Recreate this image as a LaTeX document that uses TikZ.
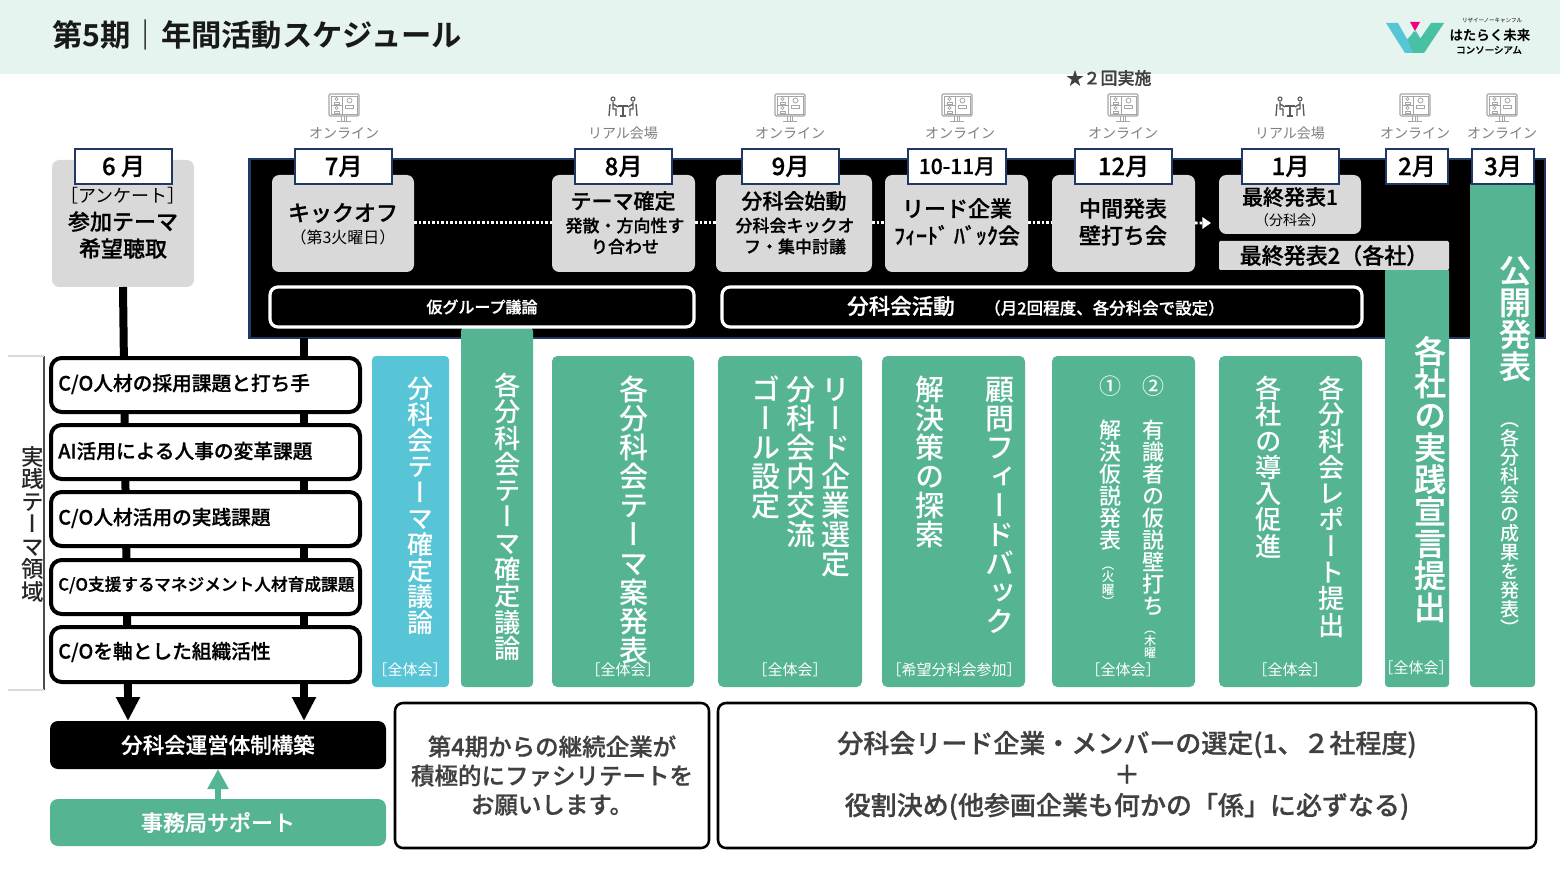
\documentclass[tikz,border=0pt]{standalone}
\usepackage{fontspec}
\usetikzlibrary{arrows.meta}
\setmainfont{Noto Sans CJK JP}[BoldFont={Noto Sans CJK JP Medium},BoldFeatures={FakeBold=0.7}]
\newfontfamily\vjp{Noto Sans CJK JP Medium}[RawFeature=+vert]
\newfontfamily\vjpb{Noto Sans CJK JP Medium}[RawFeature=+vert,FakeBold=0.7]
\newfontfamily\heavy{Noto Sans CJK JP Bold}
\definecolor{hdr}{HTML}{E5F4EF}
\definecolor{grn}{HTML}{55B592}
\definecolor{blu}{HTML}{57C5D6}
\definecolor{gbox}{HTML}{D9D9D9}
\definecolor{navy}{HTML}{1F3864}
\definecolor{ico}{HTML}{A6A6A6}
\definecolor{lab}{HTML}{7F7F7F}
\definecolor{dk}{HTML}{404040}
\newcommand\fsz[2]{\fontsize{\the\dimexpr #1pt*3/4\relax}{\the\dimexpr #2pt*3/4\relax}\selectfont}
% box by corners: name, x1,y1,x2,y2, style, text
\newcommand\bx[7]{%
  \pgfmathsetmacro\cxx{(#2+#4)/2}\pgfmathsetmacro\cyy{(#3+#5)/2}%
  \pgfmathsetmacro\ww{(#4-#2)*0.75}\pgfmathsetmacro\hh{(#5-#3)*0.75}%
  \node[inner sep=0pt,outer sep=0pt,minimum width=\ww pt,minimum height=\hh pt,align=center,#6] (#1) at (\cxx,\cyy) {#7};}
% vertical stack of characters
\def\vsend{\vsend}
\def\vsloop#1{\ifx#1\vsend\else\hbox to 1em{\hss\vrule height .88em depth .12em width 0pt #1\hss}\expandafter\vsloop\fi}
\newcommand\vstack[1]{\vbox{\offinterlineskip\vsloop#1\vsend}}
% vertical text: name, x, ytop, size, style, text
\newcommand\vt[6]{\node[anchor=north,inner sep=0pt,text=white,font=\vjp\fsz{#4}{#4},#5] (#1) at (#2,#3) {\vstack{#6}};}
\tikzset{
  x=0.75pt,y=-0.75pt,
  greybox/.style={fill=gbox,rounded corners=5.5pt,text=black},
  greenbox/.style={fill=grn,rounded corners=4pt,text=white},
  monthbox/.style={draw=navy,line width=1.9pt,fill=white,text=black,font=\bfseries\fsz{24}{28}},
  themebox/.style={draw=black,line width=3pt,fill=white,rounded corners=8pt,text=black},
  pill/.style={draw=white,line width=2.4pt,fill=black,rounded corners=6pt,text=white},
  notebox/.style={draw=black,line width=1.9pt,fill=white,rounded corners=6pt,text=dk,font=\bfseries},
  chan/.style={text=lab,font=\fsz{14}{16}},
  tag/.style={text=white,font=\fsz{15}{18}},
  txt/.style={inner sep=0pt,align=center},
  link/.style={line width=6pt,draw=black},
  bigarrow/.style={line width=6pt,draw=black,-{Triangle[width=17pt,length=18pt]}},
  dots/.style={draw=white,line width=2.2pt,dash pattern=on 1.9pt off 1.5pt},
  monitor/.pic={
    \draw[ico,line width=0.9pt,rounded corners=1pt,fill=white] (-15,-12) rectangle (15,10);
    \draw[ico,line width=0.6pt] (-13,-10) rectangle (13,8) (-2,-10) -- (-2,8) (-13,-1) -- (-2,-1);
    \draw[ico,line width=0.7pt] (0,10) -- (0,15) (-2.5,10)--(-2.5,15) (2.5,10)--(2.5,15) (-7,15) -- (7,15);
    \foreach \a/\b/\r in {-7.5/-7/1.6,-7.5/2/1.6,5.5/-5.5/2.5}{
      \draw[ico,line width=0.6pt] (\a,\b) circle[radius=\r];
      \draw[ico,line width=0.6pt] (\a-1.6*\r,\b+3.2*\r) -- (\a-1.6*\r,\b+1.9*\r) -- (\a+1.6*\r,\b+1.9*\r) -- (\a+1.6*\r,\b+3.2*\r) -- cycle;
    }
  },
  meeting/.pic={
    \foreach \s in {-1,1}{
      \draw[black!65,line width=0.8pt] (\s*10,-8) circle[radius=2];
      \draw[black!65,line width=1pt] (\s*10,-5) -- (\s*10,2) -- (\s*7,2) -- (\s*7,9) (\s*10,-3) -- (\s*5,0)
        (\s*13,-3) -- (\s*14,9);
    }
    \draw[black!65,line width=1pt] (-5,-1) -- (5,-1) (0,-1) -- (0,9) (-3,9) -- (3,9);
  }
}
\begin{document}
\begin{tikzpicture}
\useasboundingbox (0,0) rectangle (1560,877);
\fill[white] (0,0) rectangle (1560,877);
% header
\bx{hdrbar}{0}{0}{1560}{74}{fill=hdr}{}
\node[anchor=west,inner sep=0pt,font=\heavy\fsz{30.3}{34},text=black!90] (title) at (52,35) {第5期｜年間活動スケジュール};
% logo
\fill[blu] (1386,23) -- (1398,23) -- (1407,39) -- (1416,31) -- (1424,44) -- (1414,53) -- (1405,53) -- cycle;
\fill[grn!85!cyan] (1413,53) -- (1424,53) -- (1444,23) -- (1431,23) -- (1420,39) -- (1414,31) -- (1408,40) -- cycle;
\fill[magenta!90!red] (1410,22) -- (1420,22) -- (1415,31) -- cycle;
\node[txt,font=\fsz{5.5}{7}] (logo0) at (1492,21) {リザイーノーキャンフル};
\node[txt,font=\heavy\fsz{13.5}{15}] (logo1) at (1490,35) {はたらく未来};
\node[txt,font=\bfseries\fsz{9.5}{11}] (logo2) at (1489,50) {コンソーシアム};

% black band
\bx{band}{249.5}{159}{1545}{338}{draw=navy,line width=1.6pt,fill=black}{}
% connectors behind boxes
\coordinate (a1) at (128,721);
\coordinate (a2) at (304,721);
\bx{g6}{52}{160}{194}{287}{greybox}{}
\draw[link] (g6.south) -- (128,690);
\draw[link] (band.south -| a2) -- (304,690);
\draw[bigarrow] (128,688) -- (a1);
\draw[bigarrow] (304,688) -- (a2);

% grey event boxes
\bx{g7}{272}{175}{414}{272}{greybox}{}
\bx{g8}{552}{175}{695}{272}{greybox}{}
\bx{g9}{716}{175}{872}{272}{greybox}{}
\bx{g10}{885}{175}{1028}{272}{greybox}{}
\bx{g12}{1052}{175}{1195}{272}{greybox}{}
\bx{g1a}{1219}{175}{1361}{234}{greybox}{}
\coordinate (dotend) at (1211,223);
\draw[dots] ([yshift=0.4pt]g7.east) -- ([yshift=0.4pt]g8.west);
\draw[dots] ([yshift=0.4pt]g8.east) -- ([yshift=0.4pt]g9.west);
\draw[dots] ([yshift=0.4pt]g9.east) -- ([yshift=0.4pt]g10.west);
\draw[dots] ([yshift=0.4pt]g10.east) -- ([yshift=0.4pt]g12.west);
\draw[dots,-{Triangle[width=8.5pt,length=6.5pt,fill=white]}] ([yshift=0.4pt]g12.east) -- (dotend);

% green columns
\bx{c2}{461}{327}{533}{687}{greenbox,sharp corners,rounded corners=3pt}{}
\bx{c0}{372}{356}{449}{687}{fill=blu,rounded corners=3pt}{}
\bx{c3}{552}{356}{694}{687}{greenbox}{}
\bx{c4}{718}{356}{862}{687}{greenbox}{}
\bx{c5}{882}{356}{1025}{687}{greenbox}{}
\bx{c6}{1052}{356}{1195}{687}{greenbox}{}
\bx{c7}{1219}{356}{1362}{687}{greenbox}{}
\bx{c8}{1385}{268}{1449}{687}{greenbox,rounded corners=2.5pt}{}
\bx{c9}{1470}{182}{1535}{687}{greenbox,rounded corners=2.5pt}{}
\bx{g1b}{1219}{241}{1449}{270}{fill=gbox,rounded corners=1pt,text=black,font=\bfseries\fsz{22}{24}}{最終発表2（各社）}

% pills
\bx{p1}{270}{287}{694}{327}{pill,font=\bfseries\fsz{16}{20}}{仮グループ議論}
\bx{p2}{722}{287}{1362}{327}{pill}{}
\node[txt,text=white,anchor=west,font=\bfseries\fsz{21.5}{24}] (p2a) at (847,306) {分科会活動};
\node[txt,text=white,anchor=west,font=\bfseries\fsz{16.5}{20}] (p2b) at (984,308) {（月2回程度、各分科会で設定）};

% month boxes
\bx{m6}{75}{149}{172}{184}{monthbox}{6 月}
\bx{m7}{295}{149}{392}{184}{monthbox}{7月}
\bx{m8}{575}{149}{672}{184}{monthbox}{8月}
\bx{m9}{742}{149}{839}{184}{monthbox}{9月}
\bx{m10}{908}{149}{1006}{184}{monthbox,font=\bfseries\fsz{21}{28}}{10-11月}
\bx{m12}{1075}{149}{1172}{184}{monthbox}{12月}
\bx{m1}{1242}{149}{1339}{184}{monthbox}{1月}
\bx{m2}{1386}{149}{1448}{184}{monthbox}{2月}
\bx{m3}{1472}{149}{1534}{184}{monthbox}{3月}

% channel labels and icons
\foreach \n/\x/\ix in {a/344/344,c/790/790,d/960/957,e/1123/1123,g/1415/1415,h/1502/1502}
  {\node[txt,chan] (ch\n) at (\x,133) {オンライン};
   \pic at (\ix,106) {monitor};}
\foreach \n/\x in {b/623,f/1290}
  {\node[txt,chan] (ch\n) at (\x,133) {リアル会場};
   \pic at (\x,107) {meeting};}
\node[txt,font=\bfseries\fsz{17}{20},text=dk] (star) at (1109,78) {★２回実施};

% grey box texts
\node[txt,font=\fsz{18}{22}] (g6a) at (123,196) {［アンケート］};
\node[txt,font=\bfseries\fsz{22}{27}] (g6b) at (123,235) {参加テーマ\\希望聴取};
\node[txt,font=\bfseries\fsz{22}{26}] (g7a) at (343,213) {キックオフ};
\node[txt,font=\fsz{16}{20}] (g7b) at (343,237) {（第3火曜日）};
\node[txt,font=\bfseries\fsz{21}{24}] (g8a) at (623,201) {テーマ確定};
\node[txt,font=\bfseries\fsz{17}{21}] (g8b) at (625,236) {発散・方向性す\\り合わせ};
\node[txt,font=\bfseries\fsz{21}{24}] (g9a) at (794,201) {分科会始動};
\node[txt,font=\bfseries\fsz{17}{21}] (g9b) at (795,236) {分科会キックオ\\フ・集中討議};
\node[txt,font=\bfseries\fsz{22}{27}] (g10a) at (957,222) {リード企業\\ﾌｨｰﾄﾞ ﾊﾞｯｸ会};
\node[txt,font=\bfseries\fsz{22}{27}] (g12a) at (1123,222) {中間発表\\壁打ち会};
\node[txt,font=\bfseries\fsz{21}{24}] (g1aa) at (1290,197) {最終発表1};
\node[txt,font=\fsz{14}{16}] (g1ab) at (1290,220) {（分科会）};

% vertical texts
\vt{v0}{420}{375}{26}{}{分科会テーマ確定議論}
\vt{v1}{508}{372}{26.3}{}{各分科会テーマ確定議論}
\vt{v2}{634}{375}{29}{}{各分科会テーマ案発表}
\vt{v3a}{836}{375}{29}{}{リード企業選定}
\vt{v3b}{801}{375}{29}{}{分科会内交流}
\vt{v3c}{766}{375}{29}{}{ゴール設定}
\vt{v4a}{1000}{375}{29}{}{顧問フィードバック}
\vt{v4b}{930}{375}{29}{}{解決策の探索}
\vt{v5a}{1153}{375}{22}{}{②　有識者の仮説壁打ち}
\vt{v5c}{1150}{623}{12}{}{（木曜}
\vt{v5b}{1110}{375}{22}{}{①　解決仮説発表}
\vt{v5d}{1108}{558}{12.5}{}{（火曜）}
\vt{v6a}{1332}{375}{26.3}{}{各分科会レポート提出}
\vt{v6b}{1269}{375}{26.3}{}{各社の導入促進}
\vt{v7}{1430}{335}{32}{font=\vjpb\fsz{32}{32}}{各社の実践宣言提出}
\vt{v8a}{1515}{254}{32}{font=\vjpb\fsz{32}{32}}{公開発表}
\vt{v8b}{1510}{410}{19}{}{（各分科会の成果を発表）}

% tags
\node[txt,tag] (tag0) at (410,670) {［全体会］};
\node[txt,tag] (tag3) at (623,670) {［全体会］};
\node[txt,tag] (tag4) at (790,670) {［全体会］};
\node[txt,tag] (tag5) at (954,670) {［希望分科会参加］};
\node[txt,tag] (tag6) at (1123,670) {［全体会］};
\node[txt,tag] (tag7) at (1290,670) {［全体会］};
\node[txt,tag] (tag8) at (1416,668) {［全体会］};

% theme stack
\bx{t1}{51}{358}{360}{412}{themebox}{}
\bx{t2}{51}{425}{360}{479}{themebox}{}
\bx{t3}{51}{492}{360}{546}{themebox}{}
\bx{t4}{51}{560}{360}{614}{themebox}{}
\bx{t5}{51}{627}{360}{682}{themebox}{}
\node[txt,anchor=west,font=\bfseries\fsz{19.7}{24}] (t1a) at (58,384) {C/O人材の採用課題と打ち手};
\node[txt,anchor=west,font=\bfseries\fsz{19.7}{24}] (t2a) at (58,451) {AI活用による人事の変革課題};
\node[txt,anchor=west,font=\bfseries\fsz{19.7}{24}] (t3a) at (58,518) {C/O人材活用の実践課題};
\node[txt,anchor=west,font=\bfseries\fsz{16.7}{24}] (t4a) at (58,585) {C/O支援するマネジメント人材育成課題};
\node[txt,anchor=west,font=\bfseries\fsz{19.7}{24}] (t5a) at (58,652) {C/Oを軸とした組織活性};
% bracket
\coordinate (br1) at (44,356);
\coordinate (br2) at (44,690);
\draw[black!70,line width=0.9pt] (br1) -- (br2);
\draw[black!15,line width=0.9pt] (8,356) -- (br1) (8,690) -- (br2);
\vt{vside}{33}{445}{22.5}{text=black!85}{実践テーマ領域}

% bottom boxes
\bx{op}{50}{721}{386}{769}{fill=black,rounded corners=6pt,text=white,font=\bfseries\fsz{21.5}{24}}{分科会運営体制構築}
\bx{sup}{50}{799}{386}{846}{fill=grn,rounded corners=6pt,text=white,font=\bfseries\fsz{22}{24}}{事務局サポート}
\draw[draw=grn,line width=4.5pt,-{Triangle[width=15pt,length=15pt]}] (sup.north) -- (op.south);
\bx{n1}{395}{703}{709}{848}{notebox,font=\bfseries\fsz{23.5}{29}}{第4期からの継続企業が\\積極的にファシリテートを\\お願いします。}
\bx{n2}{718}{703}{1536}{848}{notebox,font=\bfseries\fsz{26}{31}}{分科会リード企業・メンバーの選定(1、２社程度)\\＋\\役割決め(他参画企業も何かの「係」に必ずなる)}
\end{tikzpicture}
\end{document}
